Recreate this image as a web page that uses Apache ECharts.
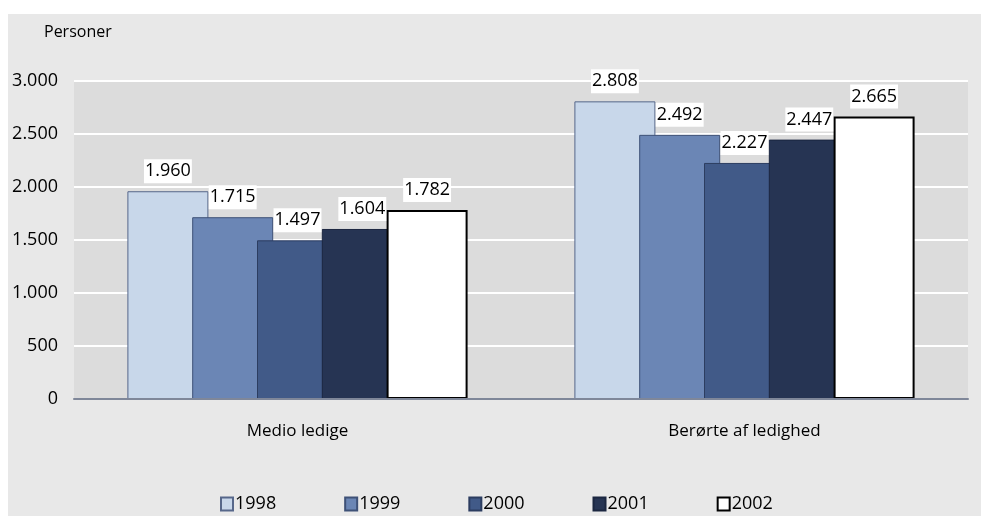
<!DOCTYPE html>
<html>
<head>
<meta charset="utf-8">
<script src="https://cdn.jsdelivr.net/npm/echarts@6/dist/echarts.min.js"></script>
<style>
html,body{margin:0;padding:0;background:#fff;width:981px;height:516px;overflow:hidden;}
#wrap{position:absolute;left:8px;top:14px;width:973px;height:502px;background:#e8e8e8;}
#chart{width:973px;height:502px;}
</style>
</head>
<body>
<div id="wrap"><div id="chart"></div></div>
<script>
const categories = ['Medio ledige', 'Berørte af ledighed'];
const years = ['1998', '1999', '2000', '2001', '2002'];
const v1998 = [1960, 2808];
const v1999 = [1715, 2492];
const v2000 = [1497, 2227];
const v2001 = [1604, 2447];
const v2002 = [1782, 2665];
const yTicks = { min: 0, max: 3000, interval: 500 };

const seriesValues = [v1998, v1999, v2000, v2001, v2002];
const fills = ['#c8d7ea', '#6b86b5', '#415a88', '#263453', '#ffffff'];
const borders = ['#56678a', '#3e5177', '#2c3d60', '#1b2640', '#000000'];
const borderWidths = [1, 1, 1, 1, 2];

function fmt(v) {
  return String(v).replace(/\B(?=(\d{3})+(?!\d))/g, '.');
}

const FONT = 'Open Sans';
const chart = echarts.init(document.getElementById('chart'), null, { renderer: 'canvas' });
chart.setOption({
  animation: false,
  textStyle: { fontFamily: FONT },
  title: {
    text: 'Personer',
    left: 31, top: 5,
    textStyle: { fontFamily: FONT, fontSize: 16, fontWeight: 'normal', color: '#000' }
  },
  grid: {
    left: 66, right: 13, top: 67, bottom: 117,
    show: true, backgroundColor: '#dcdcdc', borderWidth: 0
  },
  legend: {
    data: years,
    left: 207, top: 476,
    itemWidth: 12, itemHeight: 13, itemGap: 68,
    icon: 'rect',
    textStyle: { fontFamily: FONT, fontSize: 18, color: '#000', padding: [0, 0, 0, -3] }
  },
  xAxis: {
    type: 'category',
    data: categories,
    axisLine: { show: true, lineStyle: { color: '#7f8799', width: 2 } },
    axisTick: { show: false },
    axisLabel: { color: '#000', fontSize: 17, fontFamily: FONT, margin: 24 },
    z: 5
  },
  yAxis: {
    type: 'value',
    min: yTicks.min, max: yTicks.max, interval: yTicks.interval,
    axisLine: { show: false },
    axisTick: { show: false },
    splitLine: { show: true, lineStyle: { color: '#ffffff', width: 2 } },
    axisLabel: { color: '#000', fontSize: 18, fontFamily: FONT, margin: 16, formatter: fmt }
  },
  series: years.map((y, i) => ({
    name: y,
    type: 'bar',
    data: seriesValues[i],
    barWidth: 81,
    barGap: '-20%',
    itemStyle: { color: fills[i], borderColor: borders[i], borderWidth: borderWidths[i] },
    label: {
      show: true,
      position: 'top',
      distance: 8,
      formatter: p => fmt(p.value),
      color: '#000',
      fontSize: 18,
      fontFamily: FONT,
      backgroundColor: '#ffffff',
      padding: [3, 1, 3, 1]
    }
  }))
});
</script>
</body>
</html>
